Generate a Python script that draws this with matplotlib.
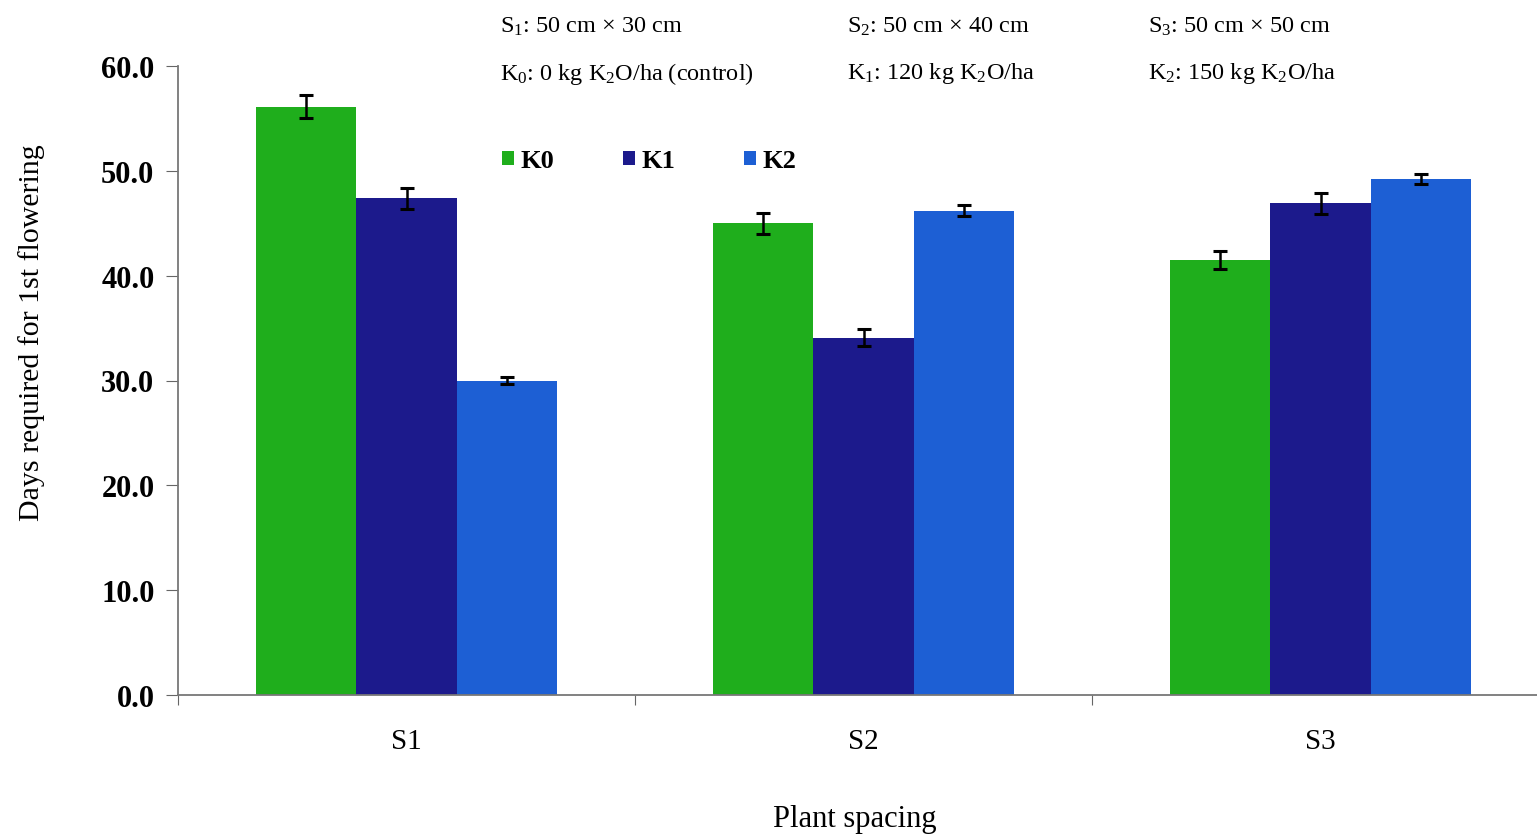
import matplotlib
matplotlib.use("Agg")
import matplotlib.pyplot as plt
import numpy as np

plt.rcParams['font.family'] = ['Liberation Serif', 'DejaVu Serif']
plt.rcParams['mathtext.fontset'] = 'custom'
plt.rcParams['mathtext.rm'] = 'Liberation Serif'
plt.rcParams['mathtext.it'] = 'Liberation Serif:italic'
plt.rcParams['mathtext.bf'] = 'Liberation Serif:bold'

# Data: days required for first flowering
spacings = ["S1", "S2", "S3"]
treatments = ["K0", "K1", "K2"]
k0_days = [56.1, 45.0, 41.5]
k1_days = [47.4, 34.1, 46.9]
k2_days = [30.0, 46.2, 49.2]
k0_err = [1.1, 1.0, 0.9]
k1_err = [1.0, 0.8, 1.0]
k2_err = [0.3, 0.5, 0.5]
y_ticks = [0, 10, 20, 30, 40, 50, 60]

colors = ["#1fae1c", "#1c1a8c", "#1d5fd4"]

fig = plt.figure(figsize=(15.37, 8.37), dpi=100)
W, H = 1537, 837
ax = fig.add_axes([178 / W, (H - 696) / H, 1 - 178 / W, (696 - 67) / H])

x = np.arange(len(spacings))
width = 0.22
series = [(k0_days, k0_err), (k1_days, k1_err), (k2_days, k2_err)]
handles = []
for i, (vals, errs) in enumerate(series):
    b = ax.bar(x + (i - 1) * width, vals, width, color=colors[i], label=treatments[i],
               yerr=errs, capsize=5, error_kw=dict(ecolor="black", elinewidth=1.8, capthick=2.2),
               zorder=2)
    handles.append(b)

ax.set_ylim(0, 60)
ax.set_xlim(-0.5, -0.5 + (W - 178) / 457)
ax.set_yticks(y_ticks)
ax.set_yticklabels([f"{v:.1f}" for v in y_ticks], fontsize=22, fontweight="bold")
ax.set_xticks([-0.5, 0.5, 1.5])
ax.set_xticklabels([])
ax.set_xticks(x, minor=True)
ax.set_xticklabels(spacings, minor=True, fontsize=21)
ax.tick_params(axis="x", which="minor", length=0, pad=24)
ax.tick_params(axis="x", which="major", length=7, color="#666666")
ax.tick_params(axis="y", length=9, color="#666666", pad=8)

for s in ["top", "right"]:
    ax.spines[s].set_visible(False)
for s in ["left", "bottom"]:
    ax.spines[s].set_color("#777777")
    ax.spines[s].set_linewidth(1.3)

ax.set_ylabel("Days required for 1st flowering", fontsize=21.5)
ax.yaxis.set_label_coords((45 - 178) / (W - 178), (696 - 333) / (696 - 67))
fig.text(855 / W, 1 - 820 / H, "Plant spacing", fontsize=22, ha="center", va="center")

leg = ax.legend(handles=handles, loc="center left",
                bbox_to_anchor=((502 - 178) / (W - 178), (696 - 162) / (696 - 67)),
                ncol=3, frameon=False, handlelength=0.45, handleheight=0.45, handletextpad=0.25,
                columnspacing=2.6, prop=dict(size=19, weight="bold"), borderaxespad=0, borderpad=0)

header = [
    (500, 27, r"S$_{1}$: 50 cm × 30 cm"),
    (847, 27, r"S$_{2}$: 50 cm × 40 cm"),
    (1148, 27, r"S$_{3}$: 50 cm × 50 cm"),
    (500, 74, r"K$_{0}$: 0 kg K$_{2}$O/ha (control)"),
    (847, 74, r"K$_{1}$: 120 kg K$_{2}$O/ha"),
    (1148, 74, r"K$_{2}$: 150 kg K$_{2}$O/ha"),
]
for px, py, t in header:
    fig.text(px / W, 1 - py / H, t, fontsize=17.5, ha="left", va="center")

fig.savefig("out.png", dpi=100, facecolor="white")
